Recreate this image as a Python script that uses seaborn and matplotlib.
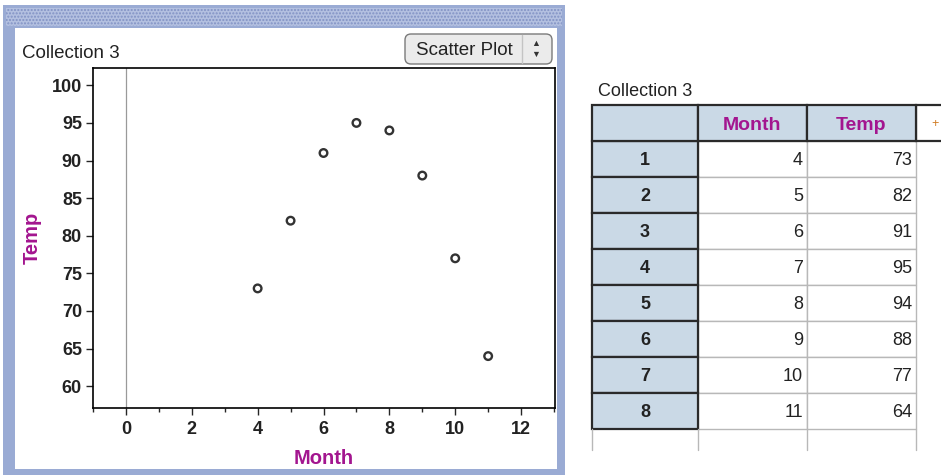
import matplotlib
matplotlib.use('Agg')
import matplotlib.pyplot as plt
from matplotlib.patches import Rectangle, FancyBboxPatch
import pandas as pd
import seaborn as sns

# data
months = [4, 5, 6, 7, 8, 9, 10, 11]
temps = [73, 82, 91, 95, 94, 88, 77, 64]
row_ids = [1, 2, 3, 4, 5, 6, 7, 8]
col_names = ['Month', 'Temp']
x_ticks = [0, 2, 4, 6, 8, 10, 12]
y_ticks = [60, 65, 70, 75, 80, 85, 90, 95, 100]
title = 'Collection 3'

df = pd.DataFrame({'Month': months, 'Temp': temps})

sns.set_style('white')
plt.rcParams['font.family'] = ['Liberation Sans', 'DejaVu Sans']

W, H = 941, 475
purple = '#a3158f'
frame_blue = '#9aabd4'
hdr_blue = '#cad9e6'
txt = '#222222'

fig = plt.figure(figsize=(W / 100, H / 100), dpi=100)

# background layer in pixel coords (frame, dropdown, table)
bg = fig.add_axes([0, 0, 1, 1], zorder=0)
bg.set_xlim(0, W)
bg.set_ylim(H, 0)
bg.axis('off')

bg.add_patch(Rectangle((3, 5), 562, 470, fc=frame_blue, ec='none'))
bg.add_patch(Rectangle((6, 8), 556, 18, fc='#b3c0e0', ec='#8192c4', hatch='.....', lw=0))
bg.add_patch(Rectangle((15, 28), 542, 441, fc='white', ec='none'))
bg.text(22, 58, title, fontsize=13.5, va='baseline', color=txt)

# dropdown button
bg.add_patch(FancyBboxPatch((405, 34), 147, 30, boxstyle='round,pad=0,rounding_size=6',
                            fc='#ebebeb', ec='#7a7a7a', lw=1))
bg.plot([522, 522], [35, 63], color='#c4c4c4', lw=1)
bg.text(464, 55, 'Scatter Plot', fontsize=13.5, ha='center', va='baseline', color=txt)
bg.text(536, 44, '▲', fontsize=6.5, ha='center', va='center', color='#333')
bg.text(536, 54, '▼', fontsize=6.5, ha='center', va='center', color='#333')

# table
cols_x = [592, 698, 807, 916, 1030]
hdr_top, hdr_bot, row_h = 105, 141, 36
bg.text(598, 96, title, fontsize=13, va='baseline', color=txt)

for i, (rid, m, t) in enumerate(zip(row_ids, months, temps)):
    y0 = hdr_bot + i * row_h
    for j, v in enumerate([m, t]):
        bg.add_patch(Rectangle((cols_x[j + 1], y0), cols_x[j + 2] - cols_x[j + 1], row_h,
                               fc='white', ec='#b8b8b8', lw=1))
        bg.text(cols_x[j + 2] - 4, y0 + 24, str(v), ha='right', va='baseline',
                fontsize=13, color=txt)
    bg.add_patch(Rectangle((cols_x[0], y0), cols_x[1] - cols_x[0], row_h,
                           fc=hdr_blue, ec='#2a2a2a', lw=1.6))
    bg.text((cols_x[0] + cols_x[1]) / 2, y0 + 24, str(rid), ha='center', va='baseline',
            fontsize=13, fontweight='bold', color=txt)

# empty row at the bottom
y_empty = hdr_bot + len(row_ids) * row_h
for xv in cols_x[:4]:
    bg.plot([xv, xv], [y_empty, y_empty + 21], color='#b8b8b8', lw=1)

# header row
bg.add_patch(Rectangle((cols_x[3], hdr_top), cols_x[4] - cols_x[3], hdr_bot - hdr_top,
                       fc='white', ec='#2a2a2a', lw=1.6))
bg.text(935, 124, '+', fontsize=9, ha='center', va='center', color='#d07a20')
bg.add_patch(Rectangle((cols_x[0], hdr_top), cols_x[1] - cols_x[0], hdr_bot - hdr_top,
                       fc=hdr_blue, ec='#2a2a2a', lw=1.6))
for j, name in enumerate(col_names):
    bg.add_patch(Rectangle((cols_x[j + 1], hdr_top), cols_x[j + 2] - cols_x[j + 1], hdr_bot - hdr_top,
                           fc=hdr_blue, ec='#2a2a2a', lw=1.6))
    bg.text((cols_x[j + 1] + cols_x[j + 2]) / 2, 130, name,
            ha='center', va='baseline', fontsize=14, fontweight='bold', color=purple)

# scatter plot
ax = fig.add_axes([93 / W, 1 - 408 / H, (555 - 93) / W, (408 - 68) / H], zorder=1)
ax.set_facecolor('white')
ax.axvline(0, color='#9a9a9a', lw=0.9, zorder=0)
sns.scatterplot(data=df, x='Month', y='Temp', ax=ax, marker='o', s=30,
                facecolor='none', edgecolor='#333333', linewidth=1.7, zorder=3)

ax.set_xlim(-0.97, 13.03)
ax.set_ylim(57.1, 102.3)
ax.set_xticks(x_ticks)
ax.set_xticks(range(-1, 14, 2), minor=True)
ax.set_yticks(y_ticks)
ax.tick_params(axis='both', which='major', direction='out', length=5, width=1,
               labelsize=13, labelcolor=txt, pad=4, left=True, bottom=True)
ax.tick_params(axis='y', which='major', pad=3)
ax.tick_params(axis='x', which='minor', direction='out', length=3, width=1, bottom=True)
for lbl in ax.get_xticklabels() + ax.get_yticklabels():
    lbl.set_fontweight('bold')
for sp in ax.spines.values():
    sp.set_color('black')
    sp.set_linewidth(1.2)

ax.set_xlabel('Month', color=purple, fontweight='bold', fontsize=14.5)
ax.set_ylabel('Temp', color=purple, fontweight='bold', fontsize=14.5)
ax.xaxis.set_label_coords(0.5, -0.12)
ax.yaxis.set_label_coords(-0.112, 0.5)

fig.savefig('out.png', dpi=100)
